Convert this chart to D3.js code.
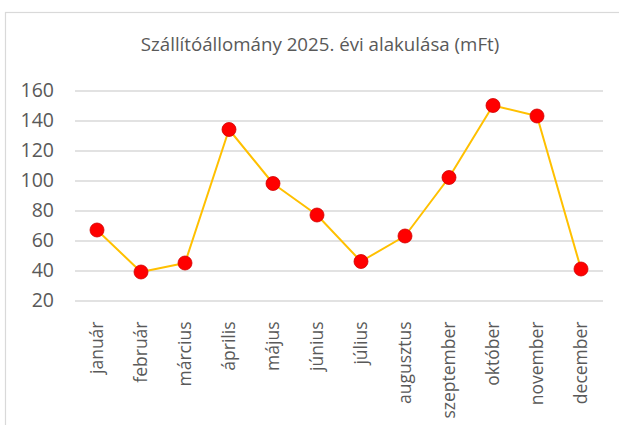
<!DOCTYPE html>
<html>
<head>
<meta charset="utf-8">
<script src="https://cdn.jsdelivr.net/npm/d3@7"></script>
<style>
  html, body { margin: 0; padding: 0; background: #fff; }
  svg { display: block; }
  text { font-family: "Open Sans", "Liberation Sans", sans-serif; fill: #595959; }
</style>
</head>
<body>
<script>
// Monthly supplier balance, 2025 (million HUF)
const months = ["január", "február", "március", "április", "május", "június",
                "július", "augusztus", "szeptember", "október", "november", "december"];
const values = [67, 39, 45, 134, 98, 77, 46, 63, 102, 150, 143, 41];
const yTicks = [20, 40, 60, 80, 100, 120, 140, 160];
const title = "Szállítóállomány 2025. évi alakulása (mFt)";

const W = 619, H = 425;
const plot = { left: 75, right: 603, top: 90.5, bottom: 300.5 };

const svg = d3.select("body").append("svg")
  .attr("width", W).attr("height", H);

// chart frame
svg.append("rect")
  .attr("x", 5.5).attr("y", 12.5)
  .attr("width", W).attr("height", H)
  .attr("fill", "#fff")
  .attr("stroke", "#d9d9d9").attr("stroke-width", 1.2);

svg.append("text")
  .attr("x", 320).attr("y", 51)
  .attr("text-anchor", "middle")
  .style("font-size", "18.7px")
  .text(title);

const x = d3.scaleBand().domain(months).range([plot.left, plot.right]);
const y = d3.scaleLinear().domain([20, 160]).range([plot.bottom, plot.top]);

// horizontal gridlines + y labels
const yAxis = svg.append("g")
  .attr("transform", `translate(${plot.left},0)`)
  .call(d3.axisLeft(y).tickValues(yTicks)
    .tickSize(-(plot.right - plot.left)).tickPadding(21).tickFormat(d3.format("d")));
yAxis.select(".domain").remove();
yAxis.selectAll(".tick line").attr("stroke", "#d9d9d9").attr("stroke-width", 1.5);
yAxis.selectAll(".tick text")
  .style("font-size", "19.5px")
  .style("font-family", "\"Open Sans\", sans-serif")
  .attr("fill", "#595959");

// rotated month labels
const xAxis = svg.append("g")
  .attr("transform", `translate(0,${plot.bottom})`)
  .call(d3.axisBottom(x).tickSize(0).tickPadding(0));
xAxis.select(".domain").remove();
xAxis.selectAll(".tick text")
  .attr("transform", "rotate(-90)")
  .attr("text-anchor", "end")
  .attr("x", -21).attr("y", 0).attr("dy", "0.35em")
  .style("font-size", "17.5px")
  .style("font-family", "\"Open Sans\", sans-serif")
  .attr("fill", "#595959");

const cx = d => x(d) + x.bandwidth() / 2;

svg.append("path")
  .datum(values)
  .attr("fill", "none")
  .attr("stroke", "#FFC000")
  .attr("stroke-width", 2)
  .attr("stroke-linejoin", "round")
  .attr("d", d3.line().x((d, i) => cx(months[i])).y(d => y(d)));

svg.append("g").selectAll("circle")
  .data(values)
  .join("circle")
  .attr("cx", (d, i) => cx(months[i]))
  .attr("cy", d => y(d))
  .attr("r", 7)
  .attr("fill", "#FF0000")
  .attr("stroke", "#D00000")
  .attr("stroke-width", 0.8);
</script>
</body>
</html>
